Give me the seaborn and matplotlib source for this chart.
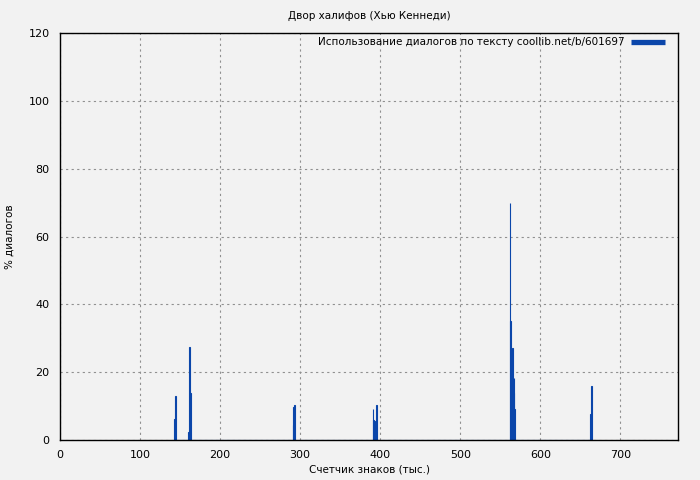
import matplotlib
matplotlib.use("Agg")
import matplotlib.pyplot as plt
from matplotlib.lines import Line2D
import seaborn as sns

# position in text (thousand chars) and share of dialogue (%)
positions = [143, 144, 161, 162, 163, 291, 292, 293,
             391, 392, 393, 394, 395,
             562, 563, 564, 565, 566, 567, 568, 663, 664]
dialog_pct = [6.2, 13.0, 2.4, 27.5, 14.0, 4.4, 9.8, 10.4,
              9.0, 5.8, 4.5, 5.5, 10.3,
              70.0, 35.0, 15.0, 27.0, 14.0, 18.2, 9.1, 7.6, 16.0]

title = "Двор халифов (Хью Кеннеди)"
legend_label = "Использование диалогов по тексту coollib.net/b/601697"
x_ticks = [0, 100, 200, 300, 400, 500, 600, 700]
y_ticks = [0, 20, 40, 60, 80, 100, 120]

bar_color = "#0b46aa"
bg = "#f2f2f2"

sns.set_style("white")
plt.rcParams["font.family"] = ["DejaVu Sans"]
plt.rcParams["text.color"] = "black"
plt.rcParams["axes.labelcolor"] = "black"

fig = plt.figure(figsize=(7, 4.8), dpi=100, facecolor=bg)
ax = fig.add_axes([0.0857, 0.0833, 0.8829, 0.8479], facecolor=bg)

sns.histplot(
    x=positions,
    weights=dialog_pct,
    discrete=True,
    color=bar_color,
    edgecolor=bar_color,
    linewidth=0.8,
    alpha=1,
    ax=ax,
)

ax.set_xlim(0, 772)
ax.set_ylim(0, 120)
ax.set_xticks(x_ticks)
ax.set_yticks(y_ticks)
ax.tick_params(axis="both", labelsize=8, direction="out", length=4, width=1,
               colors="black")

ax.grid(True, color="#909090", linestyle=(0, (2, 3)), linewidth=0.8)
ax.set_axisbelow(True)
for side in ["top", "right", "bottom", "left"]:
    ax.spines[side].set_visible(True)
    ax.spines[side].set_color("black")
    ax.spines[side].set_linewidth(1)

ax.set_title(title, fontsize=7.5, pad=10, color="black")
ax.set_xlabel("Счетчик знаков (тыс.)", fontsize=7.5, labelpad=3)
ax.set_ylabel("% диалогов", fontsize=7.5, labelpad=10)

handle = Line2D([], [], color=bar_color, linewidth=3.8, solid_capstyle="butt")
ax.legend([handle], [legend_label], loc="upper right", frameon=False,
          markerfirst=False, fontsize=7.5, handlelength=3.2,
          handletextpad=0.6, borderaxespad=0, borderpad=0.4,
          bbox_to_anchor=(0.985, 1.0), labelcolor="black")

fig.savefig("out.png", dpi=100, facecolor=bg)
